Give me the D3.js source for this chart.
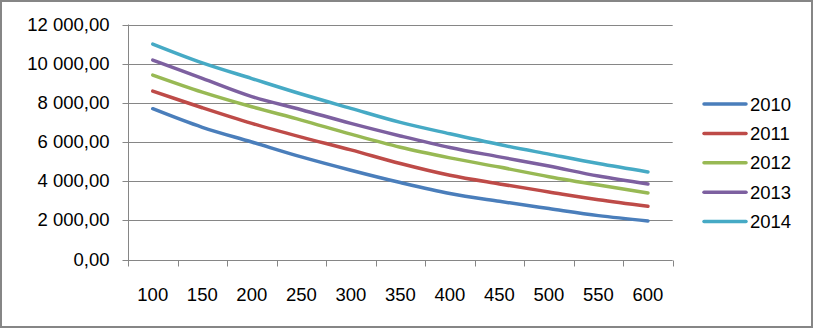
<!DOCTYPE html>
<html>
<head>
<meta charset="utf-8">
<script src="https://cdn.jsdelivr.net/npm/d3@7"></script>
<style>
  html, body { margin: 0; padding: 0; background: #fff; }
  svg { display: block; }
  text { font-family: "Liberation Sans", Arial, sans-serif; fill: #000; }
</style>
</head>
<body>
<svg id="chart" width="814" height="328"></svg>
<script>
const categories = [100, 150, 200, 250, 300, 350, 400, 450, 500, 550, 600];
const seriesNames = ["2010", "2011", "2012", "2013", "2014"];
const values2010 = [7700, 6750, 6000, 5240, 4560, 3930, 3370, 2970, 2600, 2240, 1970];
const values2011 = [8600, 7750, 6950, 6250, 5600, 4900, 4300, 3860, 3450, 3050, 2720];
const values2012 = [9420, 8550, 7800, 7120, 6400, 5730, 5190, 4720, 4230, 3800, 3400];
const values2013 = [10180, 9250, 8320, 7650, 6950, 6310, 5720, 5240, 4770, 4260, 3860];
const values2014 = [11000, 10040, 9240, 8450, 7720, 7000, 6420, 5870, 5380, 4900, 4470];
const yTicks = [0, 2000, 4000, 6000, 8000, 10000, 12000];
const colors = ["#4A7EBB", "#BE4B48", "#98B954", "#7D60A0", "#46AAC5"];

const allValues = [values2010, values2011, values2012, values2013, values2014];
const series = seriesNames.map((name, i) => ({ name, values: allValues[i], color: colors[i] }));

const svg = d3.select("#chart");
const W = 814, H = 328;
const plot = { left: 128, right: 672.7, top: 24.5, bottom: 259.5 };
const FONT = "18.5px";

// outer frame
svg.append("rect")
  .attr("x", 1).attr("y", 1).attr("width", W - 3).attr("height", H - 2)
  .attr("fill", "#fff").attr("stroke", "#868686").attr("stroke-width", 2);

const x = d3.scaleBand().domain(categories).range([plot.left, plot.right]).paddingInner(0).paddingOuter(0);
const y = d3.scaleLinear().domain([0, 12000]).range([plot.bottom, plot.top]);

const fmt = v => d3.format(",.2f")(v).replace(/,/g, " ").replace(".", ",");

// gridlines
svg.append("g")
  .selectAll("line").data(yTicks.filter(d => d > 0)).join("line")
  .attr("x1", plot.left).attr("x2", plot.right)
  .attr("y1", d => Math.round(y(d)) + 0.5).attr("y2", d => Math.round(y(d)) + 0.5)
  .attr("stroke", "#868686").attr("stroke-width", 1);

// y axis
const yAxis = d3.axisLeft(y).tickValues(yTicks).tickSize(6).tickPadding(13).tickFormat(fmt);
const gy = svg.append("g").attr("transform", `translate(${plot.left + 0.5},0)`).call(yAxis);
gy.select(".domain").attr("stroke", "#868686").attr("d", `M-0,${plot.top}V${Math.round(plot.bottom) + 0.5}`);
gy.selectAll(".tick line").attr("stroke", "#868686");
gy.selectAll(".tick").attr("transform", d => `translate(0,${Math.round(y(d)) + 0.5})`);
gy.selectAll(".tick text").style("font-size", FONT).style("font-family", "'Liberation Sans', Arial, sans-serif").attr("fill", "#000");

// x axis
const xAxis = d3.axisBottom(x).tickSize(0).tickPadding(27);
const gx = svg.append("g").attr("transform", `translate(0,${Math.round(plot.bottom) + 0.5})`).call(xAxis);
gx.select(".domain").attr("stroke", "#868686").attr("d", `M${plot.left},0H${plot.right}`);
gx.selectAll(".tick text").style("font-size", FONT).style("font-family", "'Liberation Sans', Arial, sans-serif").attr("fill", "#000");
// tick marks at category boundaries
const boundaries = categories.map(c => x(c)).concat([x(categories[categories.length - 1]) + x.bandwidth()]);
gx.append("g").selectAll("line").data(boundaries).join("line")
  .attr("x1", d => Math.round(d) + 0.5).attr("x2", d => Math.round(d) + 0.5)
  .attr("y1", 0).attr("y2", 6)
  .attr("stroke", "#868686");

// lines
const line = d3.line()
  .x((d, i) => x(categories[i]) + x.bandwidth() / 2)
  .y(d => y(d))
  .curve(d3.curveCatmullRom.alpha(0.5));

svg.append("g").selectAll("path").data(series).join("path")
  .attr("d", d => line(d.values))
  .attr("fill", "none")
  .attr("stroke", d => d.color)
  .attr("stroke-width", 3.5)
  .attr("stroke-linecap", "round")
  .attr("stroke-linejoin", "round");

// legend
const legend = svg.append("g").attr("transform", "translate(704,104)");
const rows = legend.selectAll("g").data(series).join("g")
  .attr("transform", (d, i) => `translate(0,${i * 29.4})`);
rows.append("line")
  .attr("x1", 0).attr("x2", 42).attr("y1", 0).attr("y2", 0)
  .attr("stroke", d => d.color).attr("stroke-width", 3.5).attr("stroke-linecap", "round");
rows.append("text")
  .attr("x", 46).attr("y", 0).attr("dy", "0.36em")
  .style("font-size", FONT)
  .text(d => d.name);
</script>
</body>
</html>
